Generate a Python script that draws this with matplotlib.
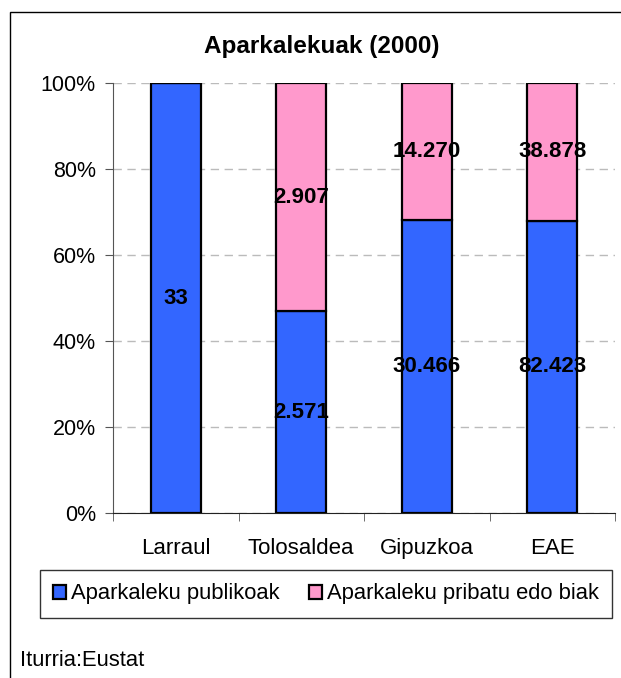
import matplotlib
matplotlib.use("Agg")
import matplotlib.pyplot as plt
import numpy as np
from matplotlib.patches import Rectangle

plt.rcParams['font.family'] = ['Liberation Sans', 'DejaVu Sans']

categories = ["Larraul", "Tolosaldea", "Gipuzkoa", "EAE"]
publikoak = [33, 2571, 30466, 82423]
pribatu = [0, 2907, 14270, 38878]
series_names = ["Aparkaleku publikoak", "Aparkaleku pribatu edo biak"]
yticks = [0, 20, 40, 60, 80, 100]

def fmt(v):
    return f"{v:,}".replace(",", ".")

W, H = 621, 678
fig = plt.figure(figsize=(W/100, H/100), dpi=100)
# outer frame
fig.patches.append(Rectangle((10/W, -0.1), 1.2, 1.1 - 12/H, transform=fig.transFigure,
                             fill=False, edgecolor='black', lw=1.0))

ax = fig.add_axes([113/W, 1-513/H, (615-113)/W, (513-83)/H])

pub = np.array(publikoak, float)
pri = np.array(pribatu, float)
tot = pub + pri
pub_p = pub / tot * 100
pri_p = pri / tot * 100
x = np.arange(len(categories))

ax.bar(x, pub_p, width=0.4, color='#3366FF', edgecolor='black', lw=1.6, label=series_names[0], zorder=3)
ax.bar(x, pri_p, bottom=pub_p, width=0.4, color='#FF99CC', edgecolor='black', lw=1.6, label=series_names[1], zorder=3)

for i in range(len(categories)):
    if pub[i] > 0:
        ax.text(x[i], pub_p[i]/2, fmt(publikoak[i]), ha='center', va='center',
                fontsize=16, fontweight='bold', zorder=4)
    if pri[i] > 0:
        ax.text(x[i], pub_p[i] + pri_p[i]/2, fmt(pribatu[i]), ha='center', va='center',
                fontsize=16, fontweight='bold', zorder=4)

ax.set_xlim(-0.5, len(categories)-0.5)
ax.set_ylim(0, 100)
ax.set_yticks(yticks)
ax.set_yticklabels([f"{t}%" for t in yticks], fontsize=15.5)
ax.set_xticks(x)
ax.set_xticklabels(categories, fontsize=16)
ax.tick_params(axis='x', which='major', length=0, pad=18)
ax.set_xticks(np.arange(len(categories)+1) - 0.5, minor=True)
ax.tick_params(axis='x', which='minor', length=5.5, color='#555555', direction='out')
ax.tick_params(axis='y', length=5.8, color='#555555', pad=6.5)
ax.grid(axis='y', color='#BBBBBB', linestyle=(0, (6, 4)), lw=1.0, zorder=0)
for s in ['top', 'right']:
    ax.spines[s].set_visible(False)
ax.spines['left'].set_color('#555555')
ax.spines['bottom'].set_color('#222222')

fig.text(322/W, 1-46/H, "Aparkalekuak (2000)", ha='center', va='center',
         fontsize=17.5, fontweight='bold')

leg = fig.legend(loc='center', bbox_to_anchor=(326/W, 1-594/H), ncol=2, fontsize=15.8,
                 frameon=True, fancybox=False, edgecolor='black', handlelength=0.6,
                 handleheight=0.6, handletextpad=0.25, columnspacing=1.3,
                 borderpad=0.6, borderaxespad=0)
leg.get_frame().set_linewidth(1.0)

fig.text(20/W, 1-660/H, "Iturria:Eustat", ha='left', va='center', fontsize=15.8)

fig.savefig("out.png", dpi=100)
